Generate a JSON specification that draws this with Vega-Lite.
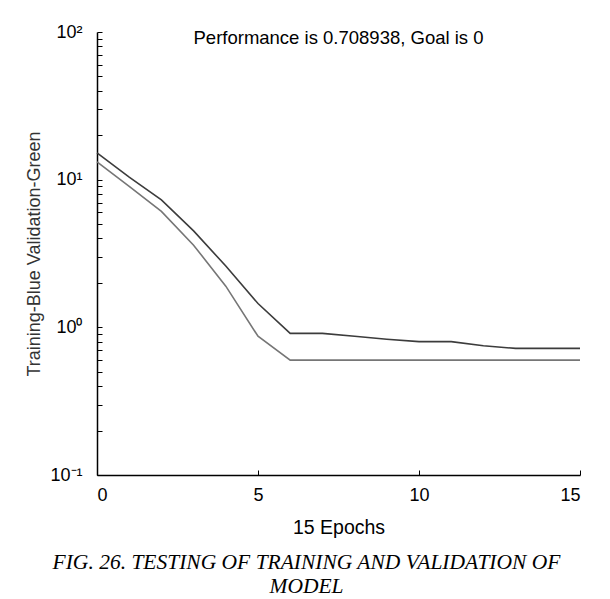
{
  "$schema": "https://vega.github.io/schema/vega-lite/v6.json",
  "width": 483,
  "height": 443,
  "autosize": {"type": "none"},
  "padding": {"left": 97, "top": 32, "right": 30, "bottom": 124},
  "background": "white",
  "config": {
    "view": {"stroke": null},
    "font": "Liberation Sans"
  },
  "title": {
    "text": "Performance is 0.708938, Goal is 0",
    "fontSize": 18.5,
    "fontWeight": "normal",
    "font": "Liberation Sans",
    "color": "black",
    "anchor": "middle",
    "frame": "group",
    "offset": -24
  },
  "data": {
    "values": [
      {"epoch": 0, "series": "A", "value": 15.2},
      {"epoch": 1, "series": "A", "value": 10.4},
      {"epoch": 2, "series": "A", "value": 7.3},
      {"epoch": 3, "series": "A", "value": 4.5},
      {"epoch": 4, "series": "A", "value": 2.6},
      {"epoch": 5, "series": "A", "value": 1.45},
      {"epoch": 6, "series": "A", "value": 0.91},
      {"epoch": 7, "series": "A", "value": 0.91},
      {"epoch": 8, "series": "A", "value": 0.87},
      {"epoch": 9, "series": "A", "value": 0.83},
      {"epoch": 10, "series": "A", "value": 0.8},
      {"epoch": 11, "series": "A", "value": 0.8},
      {"epoch": 12, "series": "A", "value": 0.75},
      {"epoch": 13, "series": "A", "value": 0.72},
      {"epoch": 14, "series": "A", "value": 0.72},
      {"epoch": 15, "series": "A", "value": 0.72},
      {"epoch": 0, "series": "B", "value": 13.2},
      {"epoch": 1, "series": "B", "value": 9.0},
      {"epoch": 2, "series": "B", "value": 6.1},
      {"epoch": 3, "series": "B", "value": 3.6},
      {"epoch": 4, "series": "B", "value": 1.9},
      {"epoch": 5, "series": "B", "value": 0.87},
      {"epoch": 6, "series": "B", "value": 0.6},
      {"epoch": 7, "series": "B", "value": 0.6},
      {"epoch": 8, "series": "B", "value": 0.6},
      {"epoch": 9, "series": "B", "value": 0.6},
      {"epoch": 10, "series": "B", "value": 0.6},
      {"epoch": 11, "series": "B", "value": 0.6},
      {"epoch": 12, "series": "B", "value": 0.6},
      {"epoch": 13, "series": "B", "value": 0.6},
      {"epoch": 14, "series": "B", "value": 0.6},
      {"epoch": 15, "series": "B", "value": 0.6}
    ]
  },
  "layer": [
    {
      "mark": {"type": "line", "strokeWidth": 1.6},
      "encoding": {
        "x": {
          "field": "epoch",
          "type": "quantitative",
          "scale": {"domain": [0, 15], "nice": false, "zero": false},
          "axis": {
            "values": [0, 5, 10, 15],
            "grid": false,
            "domainColor": "black",
            "domainWidth": 1.5,
            "tickColor": "black",
            "tickSize": -5,
            "labelPadding": 16,
            "labelFontSize": 18,
            "labelColor": "black",
            "labelFont": "Liberation Sans",
            "title": "15 Epochs",
            "titleFontSize": 19.5,
            "titleFontWeight": "normal",
            "titleColor": "black",
            "titlePadding": 14
          }
        },
        "y": {
          "field": "value",
          "type": "quantitative",
          "scale": {"type": "log", "domain": [0.1, 100], "nice": false},
          "axis": {
            "values": [0.1, 0.2, 0.3, 0.4, 0.5, 0.6, 0.7, 0.8, 0.9, 1, 2, 3, 4, 5, 6, 7, 8, 9, 10, 20, 30, 40, 50, 60, 70, 80, 90, 100],
            "labelExpr": "datum.value == 100 ? '10²' : datum.value == 10 ? '10¹' : datum.value == 1 ? '10⁰' : datum.value == 0.1 ? '10⁻¹' : ''",
            "grid": false,
            "domainColor": "black",
            "domainWidth": 1.5,
            "tickColor": "black",
            "tickSize": -5,
            "labelPadding": 20,
            "labelFontSize": 18,
            "labelColor": "black",
            "labelFont": "Liberation Sans",
            "labelOverlap": false,
            "labelBound": false,
            "labelFlush": false,
            "title": "Training-Blue  Validation-Green",
            "titleFontSize": 18,
            "titleFontWeight": "normal",
            "titleColor": "#333333",
            "titlePadding": 6
          }
        },
        "color": {
          "field": "series",
          "type": "nominal",
          "scale": {"domain": ["A", "B"], "range": ["#3c3c3c", "#767676"]},
          "legend": null
        }
      }
    },
    {
      "mark": {"type": "line", "opacity": 0},
      "encoding": {
        "x": {
          "field": "epoch",
          "type": "quantitative",
          "scale": {"domain": [0, 15], "nice": false, "zero": false},
          "axis": {
            "orient": "bottom",
            "offset": 72,
            "labels": false,
            "ticks": false,
            "domain": false,
            "grid": false,
            "title": ["FIG. 26. TESTING OF TRAINING AND VALIDATION OF", "MODEL"],
            "titleFont": "Liberation Serif",
            "titleFontStyle": "italic",
            "titleFontWeight": "normal",
            "titleFontSize": 21.5,
            "titleColor": "black",
            "titleLineHeight": 24,
            "titleX": 209
          }
        },
        "y": {"field": "value", "type": "quantitative"}
      }
    }
  ],
  "resolve": {"axis": {"x": "independent"}}
}
